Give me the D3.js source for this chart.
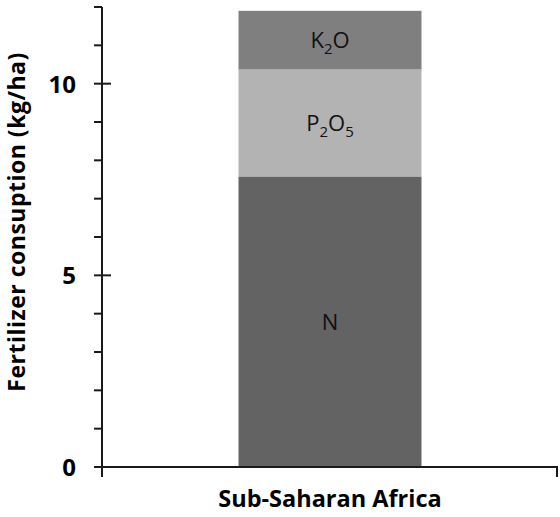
<!DOCTYPE html>
<html>
<head>
<meta charset="utf-8">
<script src="https://cdn.jsdelivr.net/npm/d3@7"></script>
<style>
  html, body { margin: 0; padding: 0; background: #fff; }
  svg { display: block; }
  text { font-family: "Open Sans", Lato, sans-serif; }
</style>
</head>
<body>
<div id="chart"></div>
<script>
const categories = ["Sub-Saharan Africa"];
const nutrients = ["N", "P2O5", "K2O"];
const N = [7.58];
const P2O5 = [2.79];
const K2O = [1.53];
const yTicks = [0, 5, 10];
const colors = { N: "#636363", P2O5: "#b3b3b3", K2O: "#7f7f7f" };
const labelParts = {
  N: [["N", false]],
  P2O5: [["P", false], ["2", true], ["O", false], ["5", true]],
  K2O: [["K", false], ["2", true], ["O", false]]
};

const W = 560, H = 517;
const margin = { left: 102 };
const svg = d3.select("#chart").append("svg").attr("width", W).attr("height", H);

const x = d3.scaleBand().domain(categories).range([margin.left, 558]).paddingInner(0).paddingOuter(0.746);
const y = d3.scaleLinear().domain([0, 12]).range([467, 7]);

const rows = categories.map((c, i) => ({ cat: c, N: N[i], P2O5: P2O5[i], K2O: K2O[i] }));
const stacked = d3.stack().keys(nutrients)(rows);
const barW = x.bandwidth();

svg.append("g").selectAll("g").data(stacked).join("g")
  .attr("fill", d => colors[d.key])
  .selectAll("rect").data(d => d.map(v => ({ v, key: d.key }))).join("rect")
  .attr("x", d => x(d.v.data.cat))
  .attr("width", barW)
  .attr("y", d => y(d.v[1]))
  .attr("height", d => y(d.v[0]) - y(d.v[1]));

// in-bar labels
stacked.forEach(s => {
  s.forEach(v => {
    const cx = x(v.data.cat) + barW / 2;
    const cy = (y(v[0]) + y(v[1])) / 2;
    const t = svg.append("text")
      .attr("x", cx).attr("y", cy + 8)
      .attr("text-anchor", "middle")
      .attr("font-size", 22).attr("fill", "#111");
    labelParts[s.key].forEach(([str, sub], i) => {
      const ts = t.append("tspan").text(str);
      if (sub) ts.attr("font-size", 15).attr("dy", 6);
      else if (i > 0) ts.attr("dy", -6);
    });
  });
});

// Y axis
const gy = svg.append("g").attr("transform", `translate(${margin.left},0)`);
gy.append("line").attr("x1", 0).attr("x2", 0).attr("y1", y(12)).attr("y2", 477)
  .attr("stroke", "#1a1a1a").attr("stroke-width", 2);
d3.range(0, 13).forEach(v => {
  const major = yTicks.includes(v);
  gy.append("line")
    .attr("x1", -8).attr("x2", major ? 9 : 0)
    .attr("y1", y(v)).attr("y2", y(v))
    .attr("stroke", "#1a1a1a").attr("stroke-width", 2);
});
gy.selectAll("text.tick").data(yTicks).join("text")
  .attr("class", "tick")
  .attr("x", -26).attr("y", d => y(d) + 9)
  .attr("text-anchor", "end")
  .attr("font-size", 24).attr("font-weight", "bold").attr("fill", "#000")
  .text(d => d);

// X axis
svg.append("line").attr("x1", margin.left).attr("x2", 558).attr("y1", y(0)).attr("y2", y(0))
  .attr("stroke", "#1a1a1a").attr("stroke-width", 2);
svg.append("line").attr("x1", 557).attr("x2", 557).attr("y1", y(0)).attr("y2", 477)
  .attr("stroke", "#1a1a1a").attr("stroke-width", 2);

svg.selectAll("text.xl").data(categories).join("text")
  .attr("class", "xl")
  .attr("x", d => x(d) + barW / 2).attr("y", 507)
  .attr("text-anchor", "middle")
  .attr("font-size", 23.5).attr("font-weight", "bold").attr("fill", "#000")
  .text(d => d);

svg.append("text")
  .attr("transform", `translate(25,222) rotate(-90)`)
  .attr("text-anchor", "middle")
  .attr("font-size", 23).attr("letter-spacing", 0.5).attr("font-weight", "bold").attr("fill", "#000")
  .text("Fertilizer consuption (kg/ha)");
</script>
</body>
</html>
